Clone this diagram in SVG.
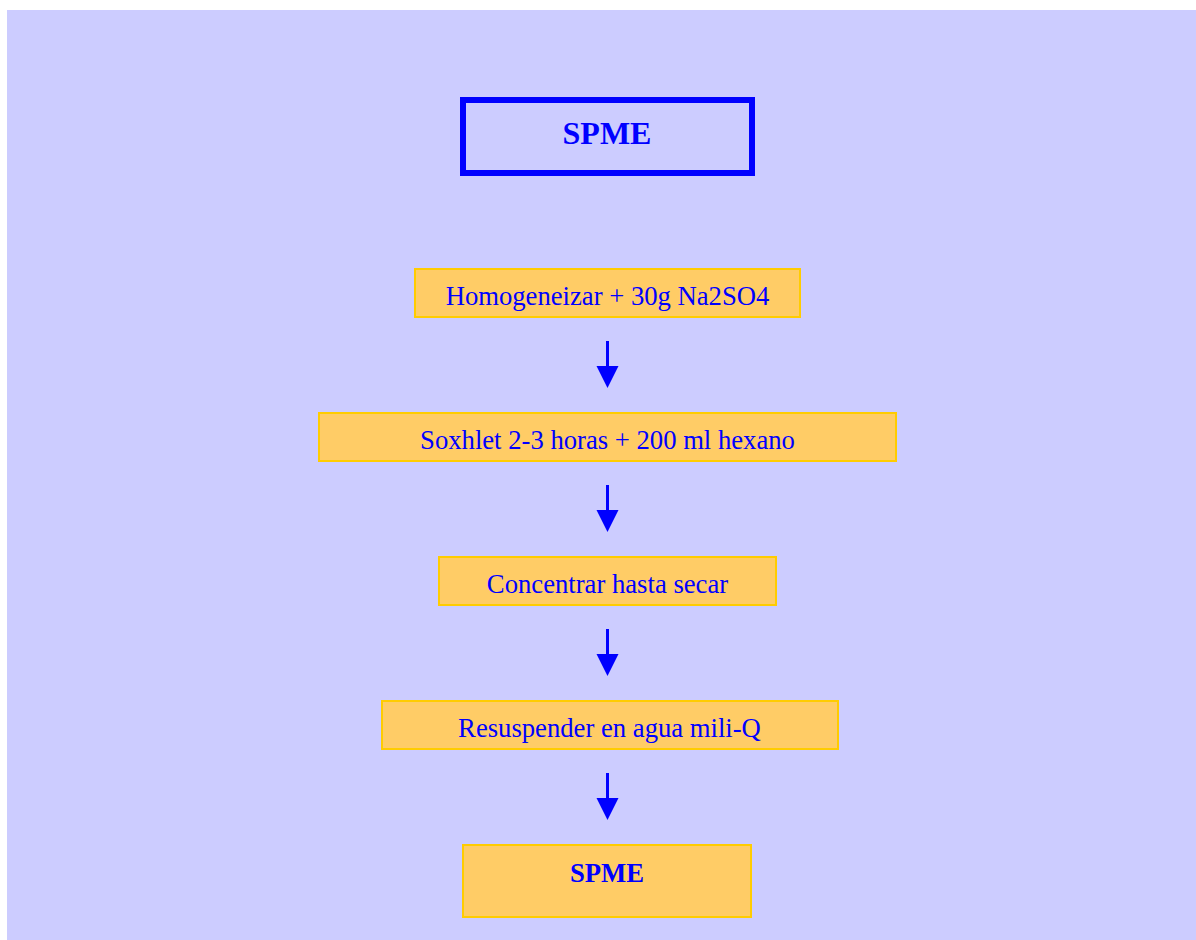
<svg xmlns="http://www.w3.org/2000/svg" width="1196" height="940" viewBox="0 0 1196 940">
<style>
.step{fill:#FFCC66;stroke:#FFCC00;stroke-width:2}
.t{font-family:"Liberation Serif","Times New Roman",serif;fill:#0000FF;text-anchor:middle}
.n{font-size:26.67px}
.b{font-weight:bold}
.ln{stroke:#0000FF;stroke-width:3;fill:none}
.hd{fill:#0000FF}
</style>
<rect x="0" y="0" width="1196" height="940" fill="#FFFFFF"/>
<rect x="7" y="10" width="1189" height="930" fill="#CCCCFF"/>
<g id="title">
<rect x="463" y="100" width="289" height="73" fill="none" stroke="#0000FF" stroke-width="6"/>
<text class="t b" x="607" y="144" font-size="32">SPME</text>
</g>
<g id="step1">
<rect class="step" x="415" y="269" width="385" height="48"/>
<text class="t n" x="607.5" y="305">Homogeneizar + 30g Na2SO4</text>
</g>
<g id="step2">
<rect class="step" x="319" y="413" width="577" height="48"/>
<text class="t n" x="607.5" y="449">Soxhlet 2-3 horas + 200 ml hexano</text>
</g>
<g id="step3">
<rect class="step" x="439" y="557" width="337" height="48"/>
<text class="t n" x="607.5" y="593">Concentrar hasta secar</text>
</g>
<g id="step4">
<rect class="step" x="382" y="701" width="456" height="48"/>
<text class="t n" x="609.5" y="737">Resuspender en agua mili-Q</text>
</g>
<g id="final">
<rect class="step" x="463" y="845" width="288" height="72"/>
<text class="t b n" x="607" y="882">SPME</text>
</g>
<g id="connectors">
<line class="ln" x1="607.5" y1="341" x2="607.5" y2="367"/>
<polygon class="hd" points="596.5,366 618.5,366 607.5,388"/>
<line class="ln" x1="607.5" y1="485" x2="607.5" y2="511"/>
<polygon class="hd" points="596.5,510 618.5,510 607.5,532"/>
<line class="ln" x1="607.5" y1="629" x2="607.5" y2="655"/>
<polygon class="hd" points="596.5,654 618.5,654 607.5,676"/>
<line class="ln" x1="607.5" y1="773" x2="607.5" y2="799"/>
<polygon class="hd" points="596.5,798 618.5,798 607.5,820"/>
</g>
</svg>
